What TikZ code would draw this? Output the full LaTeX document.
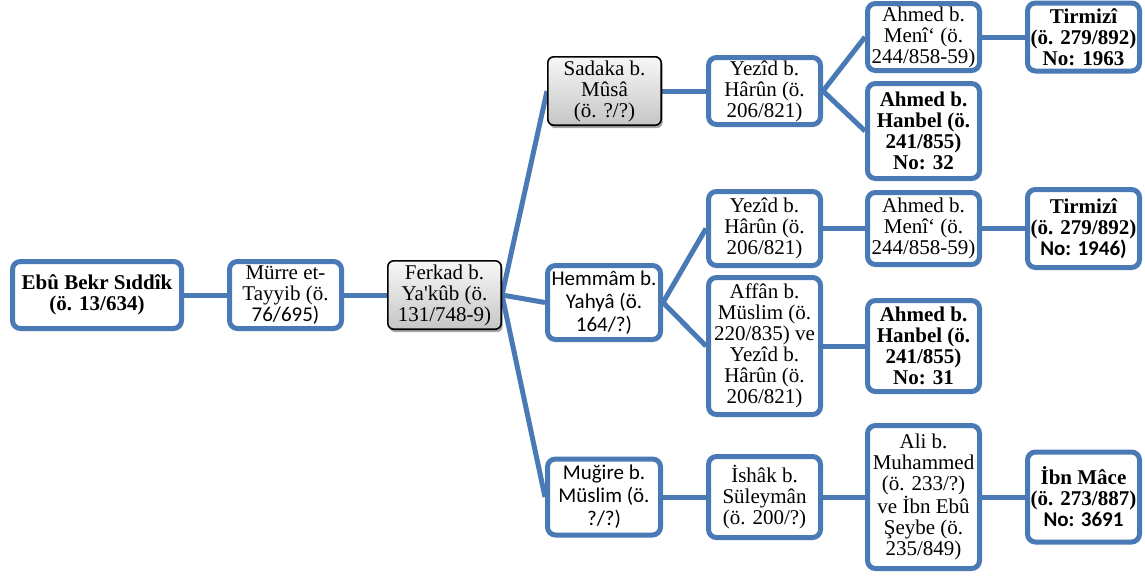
\documentclass[tikz,border=0pt]{standalone}
\usepackage{fontspec}
\setmainfont{Liberation Serif}[Ligatures=TeXOff]
\newfontfamily\carl{Carlito}
\usetikzlibrary{shadows,backgrounds}
\definecolor{sablue}{RGB}{74,122,181}
\tikzset{
  bbox/.style={draw=sablue, line width=5pt, rounded corners=8pt, fill=white,
    inner sep=0pt, align=center, font=\fontsize{21}{21}\selectfont},
  bboxb/.style={bbox, font=\fontsize{21}{21}\selectfont\bfseries},
  bboxc/.style={bbox, font=\carl\fontsize{21}{23}\selectfont},
  gbox/.style={draw=black, line width=1.6pt, rounded corners=6pt,
    top color=gray!6, bottom color=gray!45, inner sep=0pt, align=center,
    font=\fontsize{21}{21}\selectfont,
    drop shadow={shadow xshift=1.5pt, shadow yshift=-3pt, opacity=0.35, fill=black}},
  sz/.style 2 args={minimum width=#1pt, minimum height=#2pt},
  link/.style={draw=sablue, line width=5pt},
}
\begin{document}
\begin{tikzpicture}[x=1pt,y=-1pt]
\useasboundingbox (0,0) rectangle (1145,576);
\node[bboxb, sz={169}{67}] (ebu) at (97,295) {Ebû Bekr Sıddîk\\(ö. 13/634)};
\node[bbox, sz={112}{67}] (murre) at (285.5,295) {Mürre et-\\Tayyib (ö.\\{\carl 76/695)}};
\node[gbox, sz={113.4}{68.4}] (ferkad) at (444.5,295) {Ferkad b.\\Ya'kûb (ö.\\131/748-9)};
\node[gbox, sz={113.4}{68.4}] (sadaka) at (604.5,91) {Sadaka b.\\Mûsâ\\(ö. ?/?)};
\node[bbox, sz={112}{67}] (yezid1) at (764.5,91) {Yezîd b.\\Hârûn (ö.\\206/821)};
\node[bbox, sz={112}{67}] (meni1) at (923.5,37) {Ahmed b.\\Menî‘ (ö.\\244/858-59)};
\node[bboxb, sz={112}{95}] (hanbel32) at (923.5,131) {Ahmed b.\\Hanbel (ö.\\241/855)\\No: 32};
\node[bboxb, sz={112}{68}] (tirmizi1) at (1083.5,37) {Tirmizî\\(ö. 279/892)\\No: 1963};
\node[bboxc, sz={113}{74}] (hemmam) at (604,302.5) {Hemmâm b.\\Yahyâ (ö.\\164/?)};
\node[bbox, sz={112}{74}] (yezid2) at (764.5,228.5) {Yezîd b.\\Hârûn (ö.\\206/821)};
\node[bbox, sz={112}{72}] (meni2) at (923.5,228.5) {Ahmed b.\\Menî‘ (ö.\\244/858-59)};
\node[bboxb, sz={112}{78}] (tirmizi2) at (1083.5,228.5) {Tirmizî\\(ö. 279/892)\\{\carl No: 1946)}};
\node[bbox, sz={112}{137}] (affan) at (764.5,346) {Affân b.\\Müslim (ö.\\220/835) ve\\Yezîd b.\\Hârûn (ö.\\206/821)};
\node[bboxb, sz={112}{91}] (hanbel31) at (923.5,346) {Ahmed b.\\Hanbel (ö.\\241/855)\\No: 31};
\node[bboxc, sz={113}{76}] (mugire) at (604,497) {Muğire b.\\Müslim (ö.\\?/?)};
\node[bbox, sz={112}{81}] (ishak) at (764.5,497) {İshâk b.\\Süleymân\\(ö. 200/?)};
\node[bbox, sz={112}{143}] (ali) at (923.5,497) {Ali b.\\Muhammed\\(ö. 233/?)\\ve İbn Ebû\\Şeybe (ö.\\235/849)};
\node[bboxb, sz={112}{90}] (ibnmace) at (1083.5,497) {İbn Mâce\\(ö. 273/887)\\{\carl No: 3691}};
\begin{scope}[on background layer]
\draw[link] (ebu.east) -- (murre.west);
\draw[link] (murre.east) -- (ferkad.west);
\draw[link] (ferkad.east) -- (sadaka.west);
\draw[link] (ferkad.east) -- (hemmam.west);
\draw[link] (ferkad.east) -- (mugire.west);
\draw[link] (sadaka.east) -- (yezid1.west);
\draw[link] (yezid1.east) -- (meni1.west);
\draw[link] (yezid1.east) -- (hanbel32.west);
\draw[link] (meni1.east) -- (tirmizi1.west);
\draw[link] (hemmam.east) -- (yezid2.west);
\draw[link] (hemmam.east) -- (affan.west);
\draw[link] (yezid2.east) -- (meni2.west);
\draw[link] (meni2.east) -- (tirmizi2.west);
\draw[link] (affan.east) -- (hanbel31.west);
\draw[link] (mugire.east) -- (ishak.west);
\draw[link] (ishak.east) -- (ali.west);
\draw[link] (ali.east) -- (ibnmace.west);
\end{scope}
\end{tikzpicture}
\end{document}
